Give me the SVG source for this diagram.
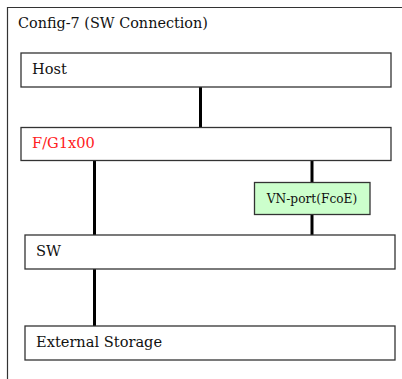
<svg xmlns="http://www.w3.org/2000/svg" width="402" height="379" viewBox="0 0 402 379">
<style>
.box{fill:#fff;stroke:#333;stroke-width:1.3}
.lbl{font-family:"DejaVu Serif","Liberation Serif",serif;font-size:14.6px;fill:#111}
.conn line{stroke:#000;stroke-width:3}
</style>
<rect width="402" height="379" fill="#fff"/>
<g id="frame">
<path d="M7.5 379 V7.5 H402" fill="none" stroke="#333" stroke-width="1.2"/>
<text x="18" y="28" class="lbl" style="font-size:14.4px">Config-7 (SW Connection)</text>
</g>
<g class="conn" id="connectors">
<line x1="200.5" y1="87" x2="200.5" y2="127"/>
<line x1="94.5" y1="161" x2="94.5" y2="235"/>
<line x1="312" y1="161" x2="312" y2="182"/>
<line x1="312" y1="214" x2="312" y2="235"/>
<line x1="94.5" y1="269" x2="94.5" y2="326"/>
</g>
<g id="host">
<rect class="box" x="21" y="53" width="370" height="34"/>
<text x="32" y="74" class="lbl">Host</text>
</g>
<g id="fg">
<rect class="box" x="21" y="127.5" width="370" height="33"/>
<text x="32" y="148" class="lbl" style="fill:#ff2020">F/G1x00</text>
</g>
<g id="vnport">
<rect class="box" x="254.5" y="182.5" width="115.5" height="32" style="fill:#ccffcc"/>
<text x="312" y="202.5" class="lbl" text-anchor="middle" style="font-size:12.2px">VN-port(FcoE)</text>
</g>
<g id="sw">
<rect class="box" x="25" y="235" width="370" height="34"/>
<text x="36" y="256" class="lbl">SW</text>
</g>
<g id="storage">
<rect class="box" x="25" y="326" width="370" height="34"/>
<text x="36" y="347" class="lbl">External Storage</text>
</g>
</svg>
